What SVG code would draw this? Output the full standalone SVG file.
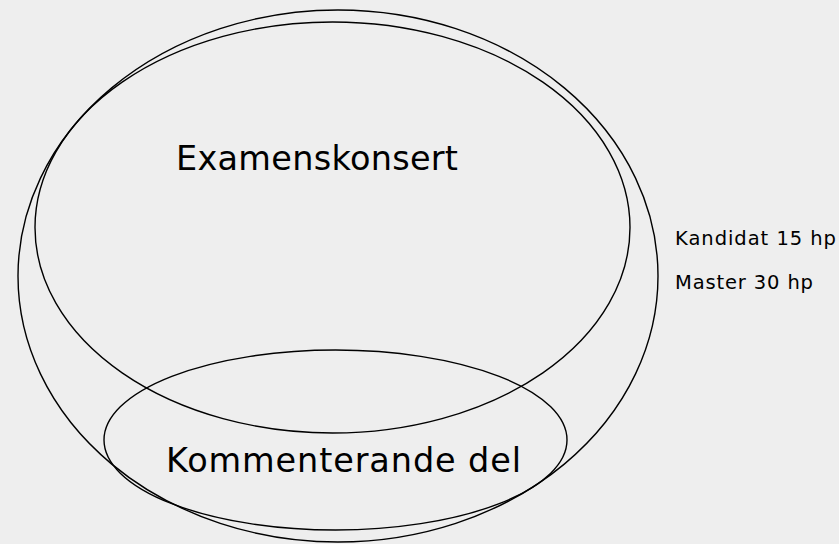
<svg xmlns="http://www.w3.org/2000/svg" width="839" height="544" viewBox="0 0 839 544">
<style>
.e{fill:none;stroke:#000;stroke-width:1.4}
.t{font-family:"DejaVu Sans",Verdana,sans-serif;fill:#000}
.big{font-size:33.5px}
.small{font-size:19.5px}
</style>
<rect width="839" height="544" fill="#eeeeee"/>
<g id="outer">
<ellipse class="e" cx="338" cy="276" rx="320" ry="266"/>
</g>
<g id="examenskonsert">
<ellipse class="e" cx="332.5" cy="227.5" rx="297.5" ry="205.5"/>
<text class="t big" x="176" y="170" textLength="282" lengthAdjust="spacing">Examenskonsert</text>
</g>
<g id="kommenterande">
<ellipse class="e" cx="335.5" cy="440" rx="231.5" ry="90"/>
<text class="t big" x="166" y="472" textLength="355" lengthAdjust="spacing">Kommenterande del</text>
</g>
<g id="labels">
<text class="t small" x="675" y="245" textLength="161" lengthAdjust="spacing">Kandidat 15 hp</text>
<text class="t small" x="675" y="288.5" textLength="138" lengthAdjust="spacing">Master 30 hp</text>
</g>
<g id="connectors"/>
</svg>
